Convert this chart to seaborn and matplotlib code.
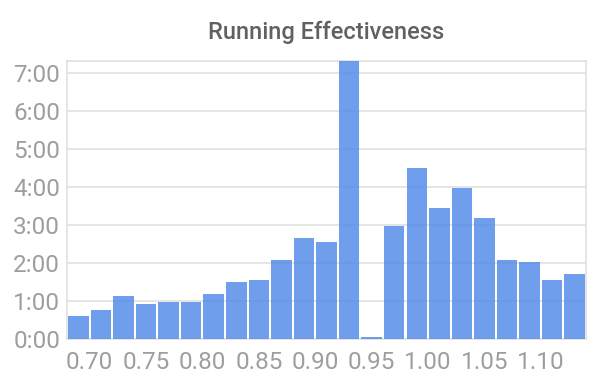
import numpy as np
import pandas as pd
import matplotlib
matplotlib.use('Agg')
import matplotlib.pyplot as plt
from matplotlib.ticker import FuncFormatter, MultipleLocator
import seaborn as sns

# histogram bins of running effectiveness (width 0.02 starting at 0.68)
bin_start = 0.68
bin_width = 0.02
hours = [0.60, 0.76, 1.13, 0.92, 0.97, 0.97, 1.18, 1.50, 1.55, 2.08, 2.66, 2.55,
         7.40, 0.04, 2.97, 4.50, 3.44, 3.97, 3.18, 2.08, 2.02, 1.55, 1.71]
x_ticks = [0.70, 0.75, 0.80, 0.85, 0.90, 0.95, 1.00, 1.05, 1.10]
title = 'Running Effectiveness'

edges = bin_start + bin_width * np.arange(len(hours) + 1)
data = pd.DataFrame({'effectiveness': (edges[:-1] + edges[1:]) / 2, 'hours': hours})

sns.set_style('white')
plt.rcParams['font.family'] = ['Roboto', 'DejaVu Sans']

fig = plt.figure(figsize=(6, 3.9), dpi=100)
ax = fig.add_axes([0.1117, 0.1308, 0.865, 0.7128])

sns.histplot(data=data, x='effectiveness', weights='hours', bins=len(hours),
             binrange=(edges[0], edges[-1]), shrink=0.91, ax=ax,
             color='#4a86e8', alpha=0.8, edgecolor='none', linewidth=0, zorder=3)

ax.set_xlim(edges[0], edges[-1])
ax.set_ylim(0, 7.31)
ax.set_xticks(x_ticks)
ax.set_xticklabels(['%.2f' % t for t in x_ticks])
ax.yaxis.set_major_locator(MultipleLocator(1))
ax.yaxis.set_major_formatter(FuncFormatter(lambda v, p: '%d:%02d' % (int(v), round((v % 1) * 60))))
ax.grid(axis='y', color='#e0e0e0', linewidth=1.2, zorder=0)
ax.set_axisbelow(True)
ax.set_xlabel('')
ax.set_ylabel('')
for s in ax.spines.values():
    s.set_color('#e0e0e0')
    s.set_linewidth(1.2)
ax.tick_params(axis='x', length=6, width=1.2, color='#d0d0d0', labelsize=17.5, labelcolor='#9e9e9e', pad=3)
ax.tick_params(axis='y', length=0, labelsize=17.5, labelcolor='#9e9e9e', pad=5)
ax.set_title(title, fontsize=17, color='#616161', fontweight='medium', pad=16)

plt.savefig('out.png', dpi=100)
